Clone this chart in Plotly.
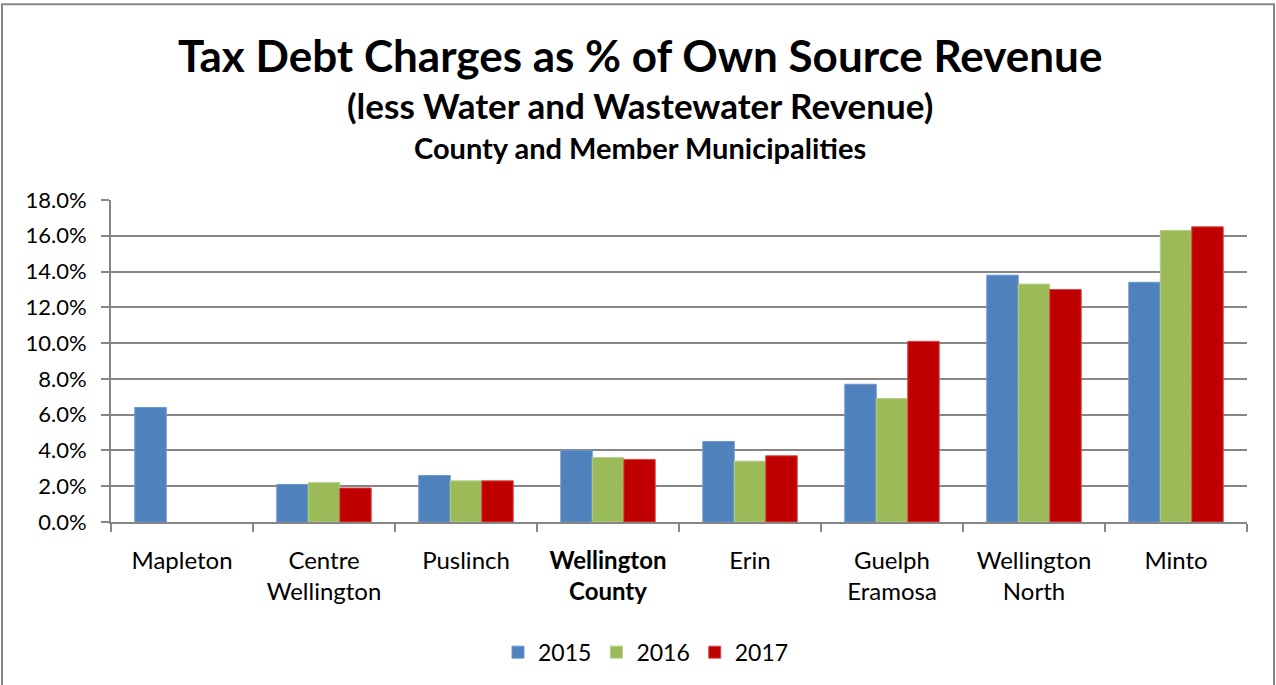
import plotly.graph_objects as go

categories = ["Mapleton", "Centre<br>Wellington", "Puslinch", "<b>Wellington<br>County</b>",
              "Erin", "Guelph<br>Eramosa", "Wellington<br>North", "Minto"]
v2015 = [6.4, 2.1, 2.6, 4.0, 4.5, 7.7, 13.8, 13.4]
v2016 = [None, 2.2, 2.3, 3.6, 3.4, 6.9, 13.3, 16.3]
v2017 = [None, 1.9, 2.3, 3.5, 3.7, 10.1, 13.0, 16.5]
years = ["2015", "2016", "2017"]
colors = ["#4F81BD", "#9BBB59", "#C00000"]
outlines = ["#6E97CC", "#B5CF85", "#D8494A"]
yticks = [0, 2, 4, 6, 8, 10, 12, 14, 16, 18]

W, H = 1276, 685
ml, mr, mt, mb = 111, 29, 200, 161
pw, ph = W - ml - mr, H - mt - mb

font_family = "Lato, 'Open Sans', sans-serif"

fig = go.Figure()
for name, vals, c, oc in zip(years, [v2015, v2016, v2017], colors, outlines):
    fig.add_trace(go.Bar(x=categories, y=vals, name=name, marker=dict(color=c, line=dict(color=oc, width=1))))

fig.update_layout(
    width=W, height=H,
    margin=dict(l=ml, r=mr, t=mt, b=mb),
    paper_bgcolor="white", plot_bgcolor="white",
    barmode="group", bargap=0.335, bargroupgap=0,
    font=dict(family=font_family, color="#000000"),
    showlegend=True,
    legend=dict(orientation="h", x=(646 - ml) / pw, xanchor="center", y=-(655 - (H - mb)) / ph,
                yanchor="middle", font=dict(size=23, family=font_family), itemwidth=30,
                traceorder="normal"),
    xaxis=dict(showline=True, linecolor="#868686", linewidth=2, ticks="outside", tickson="boundaries",
               ticklen=8, tickcolor="#868686", tickwidth=2, ticklabelstandoff=16,
               tickfont=dict(size=24, family=font_family), showgrid=False),
    yaxis=dict(range=[0, 18], tickvals=yticks, ticktext=[f"{t:.1f}%" for t in yticks],
               showgrid=True, gridcolor="#868686", gridwidth=2,
               showline=True, linecolor="#868686", linewidth=2,
               ticks="outside", ticklen=8, tickcolor="#868686", tickwidth=2, ticklabelstandoff=10,
               tickfont=dict(size=22, family=font_family), zeroline=False),
)

annots = [
    ("<b>Tax Debt Charges as % of Own Source Revenue</b>", 54, 44),
    ("<b>(less Water and Wastewater Revenue)</b>", 104, 35),
    ("<b>County and Member Municipalities</b>", 147, 29),
]
for text, yc, size in annots:
    fig.add_annotation(text=text, xref="paper", yref="paper",
                       x=(640 - ml) / pw, y=(H - mb - yc) / ph,
                       xanchor="center", yanchor="middle", showarrow=False,
                       font=dict(size=size, family=font_family, color="#000000"))

# chart border
fig.add_shape(type="rect", xref="paper", yref="paper",
              x0=(2 - ml) / pw, x1=(1274 - ml) / pw,
              y0=(H - mb - 700) / ph, y1=(H - mb - 3) / ph,
              line=dict(color="#868686", width=2), fillcolor="rgba(0,0,0,0)", layer="below")

fig.write_html("out.html", config={"displayModeBar": False},
               post_script="document.body.style.margin='0';document.body.style.overflow='hidden';")
